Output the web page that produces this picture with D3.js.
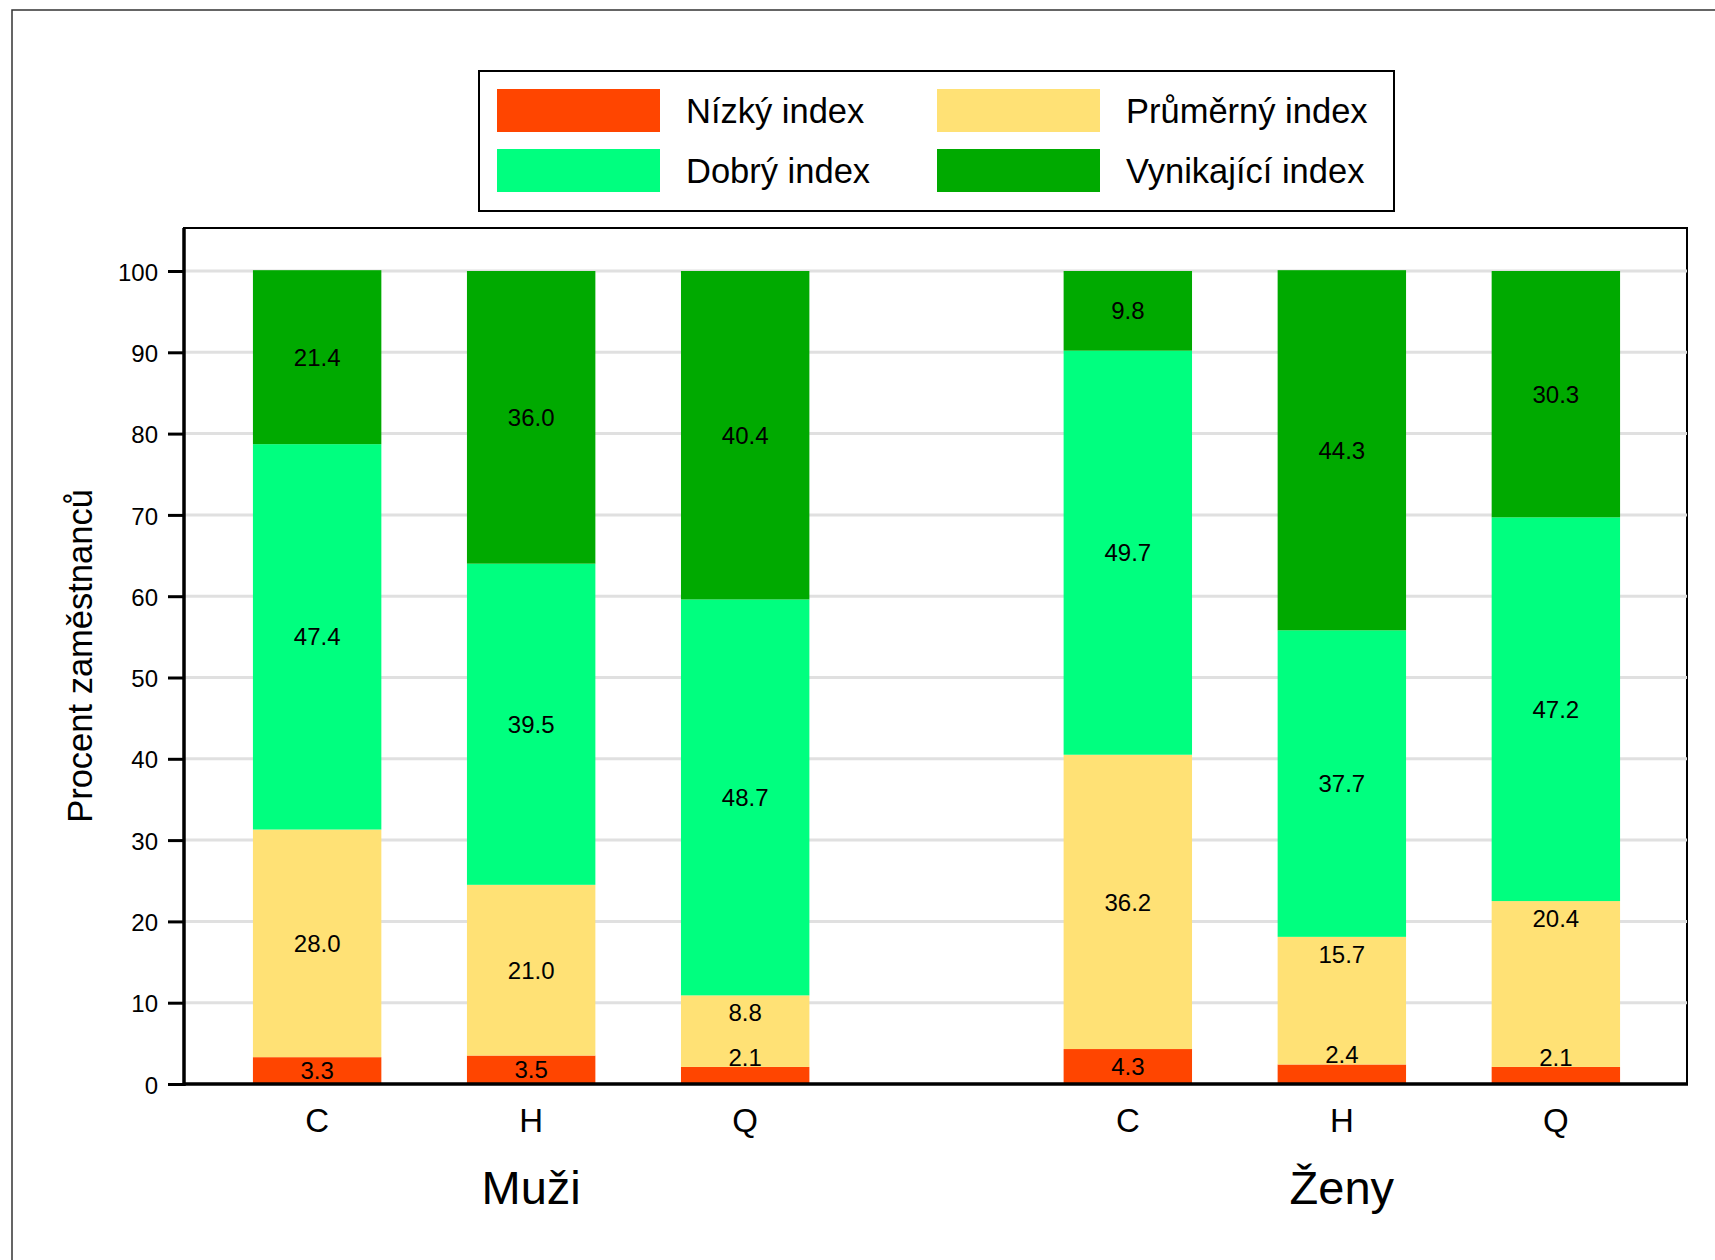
<!DOCTYPE html>
<html>
<head>
<meta charset="utf-8">
<script src="https://cdn.jsdelivr.net/npm/d3@7"></script>
<style>
  html, body { margin: 0; padding: 0; background: #fff; }
  svg { display: block; font-family: "Liberation Sans", Arial, Helvetica, sans-serif; }
</style>
</head>
<body>
<svg id="chart" width="1715" height="1260"></svg>
<script>
// ---- data ----
const groups = ["Muži", "Ženy"];
const categories = ["C", "H", "Q"];
const seriesNames = ["Nízký index", "Průměrný index", "Dobrý index", "Vynikající index"];
const seriesColors = ["#FF4500", "#FFE175", "#00FF7F", "#00AA00"];
// values per bar (Muži C,H,Q then Ženy C,H,Q)
const nizky      = [3.3, 3.5, 2.1, 4.3, 2.4, 2.1];
const prumerny   = [28.0, 21.0, 8.8, 36.2, 15.7, 20.4];
const dobry      = [47.4, 39.5, 48.7, 49.7, 37.7, 47.2];
const vynikajici = [21.4, 36.0, 40.4, 9.8, 44.3, 30.3];
const yTicks = [0, 10, 20, 30, 40, 50, 60, 70, 80, 90, 100];
const yTitle = "Procent zaměstnanců";

// ---- layout ----
const svg = d3.select("#chart");
const plot = { left: 184, top: 228, right: 1687, bottom: 1084 };

// outer frame
svg.append("rect").attr("x", 12).attr("y", 10).attr("width", 2000).attr("height", 2000)
  .attr("fill", "none").attr("stroke", "#333").attr("stroke-width", 1.5);

const y = d3.scaleLinear().domain([0, 100]).range([1084, 271]);
const xGroup = d3.scaleBand().domain(groups).range([plot.left + 1, plot.right + 1])
  .paddingInner(0.208).paddingOuter(0.031);
const xCat = d3.scaleBand().domain(categories).range([0, xGroup.bandwidth()])
  .paddingInner(0.4).paddingOuter(0.2);

// plot frame (white bg)
svg.append("rect").attr("x", plot.left).attr("y", plot.top)
  .attr("width", plot.right - plot.left).attr("height", plot.bottom - plot.top)
  .attr("fill", "#fff").attr("stroke", "#000").attr("stroke-width", 2);

// gridlines
svg.append("g").selectAll("line").data(yTicks.filter(d => d > 0)).join("line")
  .attr("x1", plot.left).attr("x2", plot.right)
  .attr("y1", d => y(d)).attr("y2", d => y(d))
  .attr("stroke", "#e0e0e0").attr("stroke-width", 3);

// bars
const bars = [];
groups.forEach((g, gi) => {
  categories.forEach((c, ci) => {
    const i = gi * categories.length + ci;
    bars.push({ group: g, cat: c, vals: [nizky[i], prumerny[i], dobry[i], vynikajici[i]] });
  });
});

const barG = svg.append("g");
const labelG = svg.append("g");
bars.forEach(b => {
  const x0 = xGroup(b.group) + xCat(b.cat);
  const w = xCat.bandwidth();
  let acc = 0;
  let pushNext = false;
  b.vals.forEach((v, si) => {
    const y0 = acc, y1 = acc + v;
    acc = y1;
    barG.append("rect")
      .attr("x", x0).attr("width", w)
      .attr("y", y(y1)).attr("height", y(y0) - y(y1))
      .attr("fill", seriesColors[si]);
    const h = y(y0) - y(y1);
    const t = labelG.append("text")
      .attr("x", x0 + w / 2)
      .attr("text-anchor", "middle")
      .attr("font-size", 24)
      .attr("fill", "#000")
      .text(v.toFixed(1));
    if (h < 22) {
      t.attr("y", y(y1) - 1);
      pushNext = true;
    } else if (pushNext) {
      t.attr("y", y(y1) + 26);
      pushNext = false;
    } else {
      t.attr("y", (y(y0) + y(y1)) / 2).attr("dy", "0.36em");
    }
  });
});

// y axis
const yAxis = d3.axisLeft(y).tickValues(yTicks).tickSize(16).tickPadding(10);
const yAx = svg.append("g").attr("transform", `translate(${plot.left},0)`).call(yAxis);
yAx.select(".domain").remove();
yAx.selectAll(".tick line").attr("stroke", "#000").attr("stroke-width", 3);
yAx.selectAll(".tick text").attr("font-size", 24).attr("fill", "#000")
  .attr("font-family", "Liberation Sans, Arial, sans-serif").attr("dy", "0.38em");

// spines
svg.append("line").attr("x1", plot.left).attr("x2", plot.left)
  .attr("y1", plot.top).attr("y2", plot.bottom + 2)
  .attr("stroke", "#000").attr("stroke-width", 3.5);
svg.append("line").attr("x1", plot.left).attr("x2", plot.right + 1)
  .attr("y1", plot.bottom).attr("y2", plot.bottom)
  .attr("stroke", "#000").attr("stroke-width", 3.5);

// x category labels
bars.forEach(b => {
  svg.append("text")
    .attr("x", xGroup(b.group) + xCat(b.cat) + xCat.bandwidth() / 2)
    .attr("y", 1132)
    .attr("text-anchor", "middle")
    .attr("font-size", 33)
    .text(b.cat);
});
// group labels
svg.append("g").selectAll("text").data(groups).join("text")
  .attr("x", d => xGroup(d) + xGroup.bandwidth() / 2)
  .attr("y", 1204)
  .attr("text-anchor", "middle")
  .attr("font-size", 47)
  .text(d => d);

// y title
svg.append("text")
  .attr("transform", `translate(92,656) rotate(-90)`)
  .attr("text-anchor", "middle")
  .attr("font-size", 34.5)
  .text(yTitle);

// legend
const legend = svg.append("g");
legend.append("rect").attr("x", 479).attr("y", 71).attr("width", 915).attr("height", 140)
  .attr("fill", "#fff").attr("stroke", "#000").attr("stroke-width", 2);
const colX = [497, 937];
const rowY = [89, 149];
seriesNames.forEach((name, si) => {
  const col = si % 2, row = Math.floor(si / 2);
  legend.append("rect").attr("x", colX[col]).attr("y", rowY[row])
    .attr("width", 163).attr("height", 43).attr("fill", seriesColors[si]);
  legend.append("text").attr("x", colX[col] + 189).attr("y", rowY[row] + 34)
    .attr("font-size", 34.5).text(name);
});
</script>
</body>
</html>
